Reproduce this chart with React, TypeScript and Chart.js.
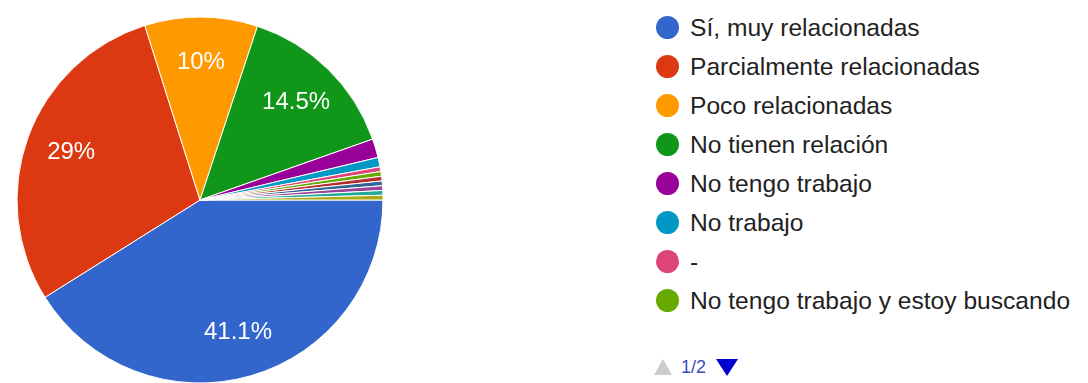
import React, { useEffect, useRef } from "react";
import { Chart, registerables } from "chart.js";

Chart.register(...registerables);

const categories = [
  "Sí, muy relacionadas",
  "Parcialmente relacionadas",
  "Poco relacionadas",
  "No tienen relación",
  "No tengo trabajo",
  "No trabajo",
  "-",
  "No tengo trabajo y estoy buscando",
  "Otra respuesta 1",
  "Otra respuesta 2",
  "Otra respuesta 3",
  "Otra respuesta 4",
  "Otra respuesta 5",
];

const responses = [99, 70, 24, 35, 4, 2, 1, 1, 1, 1, 1, 1, 1];

const sliceColors = [
  "#3366cc",
  "#dc3912",
  "#ff9900",
  "#109618",
  "#990099",
  "#0099c6",
  "#dd4477",
  "#66aa00",
  "#b82e2e",
  "#316395",
  "#994499",
  "#22aa99",
  "#aaaa11",
];

const legendPageSize = 8;
const pageLabel = "1/2";

const FONT = "Arial, 'Liberation Sans', sans-serif";

function formatPct(v: number, total: number) {
  const p = Math.round((v / total) * 1000) / 10;
  return (Number.isInteger(p) ? p.toFixed(0) : p.toFixed(1)) + "%";
}

const sliceLabels = {
  id: "sliceLabels",
  afterDatasetsDraw(chart: any) {
    const ctx = chart.ctx;
    const meta = chart.getDatasetMeta(0);
    const data = chart.data.datasets[0].data as number[];
    const total = data.reduce((a, b) => a + b, 0);
    ctx.save();
    ctx.font = `24px ${FONT}`;
    ctx.fillStyle = "#ffffff";
    ctx.textAlign = "center";
    ctx.textBaseline = "middle";
    meta.data.forEach((arc: any, i: number) => {
      if (data[i] / total < 0.05) return;
      const { startAngle, endAngle, outerRadius, x, y } = arc.getProps(
        ["startAngle", "endAngle", "outerRadius", "x", "y"],
        true
      );
      const mid = (startAngle + endAngle) / 2;
      const r = outerRadius * 0.75;
      ctx.fillText(formatPct(data[i], total), x + Math.cos(mid) * r, y + Math.sin(mid) * r);
    });
    ctx.restore();
  },
};

function PieChart() {
  const ref = useRef<HTMLCanvasElement | null>(null);
  useEffect(() => {
    if (!ref.current) return;
    const chart = new Chart(ref.current, {
      type: "pie",
      data: {
        labels: categories,
        datasets: [
          {
            data: responses,
            backgroundColor: sliceColors,
            borderColor: "#ffffff",
            borderWidth: 1,
          },
        ],
      },
      options: {
        responsive: false,
        animation: false,
        rotation: 90,
        radius: 183,
        layout: { padding: 0 },
        plugins: {
          legend: { display: false },
          tooltip: { enabled: false },
        },
      },
      plugins: [sliceLabels],
    });
    return () => chart.destroy();
  }, []);
  return <canvas ref={ref} width={400} height={400} style={{ display: "block" }} />;
}

export default function App() {
  return (
    <div
      style={{
        position: "fixed",
        left: 0,
        top: 0,
        width: 1088,
        height: 383,
        overflow: "hidden",
        background: "#ffffff",
        fontFamily: FONT,
      }}
    >
      <div style={{ position: "absolute", left: 0, top: 0, width: 400, height: 383, overflow: "hidden" }}>
        <PieChart />
      </div>
      <div style={{ position: "absolute", left: 656, top: 8 }}>
        {categories.slice(0, legendPageSize).map((c, i) => (
          <div
            key={c}
            style={{ display: "flex", alignItems: "center", height: 39, whiteSpace: "nowrap" }}
          >
            <span
              style={{
                width: 23,
                height: 23,
                borderRadius: "50%",
                background: sliceColors[i],
                display: "inline-block",
                flex: "none",
              }}
            />
            <span style={{ marginLeft: 11, fontSize: 24.6, color: "#222222" }}>{c}</span>
          </div>
        ))}
      </div>
      <div
        style={{
          position: "absolute",
          left: 654,
          top: 356,
          height: 22,
          display: "flex",
          alignItems: "center",
        }}
      >
        <span
          style={{
            width: 0,
            height: 0,
            borderLeft: "9px solid transparent",
            borderRight: "9px solid transparent",
            borderBottom: "16px solid #cccccc",
          }}
        />
        <span style={{ marginLeft: 9, fontSize: 18, color: "#3b4cc0" }}>{pageLabel}</span>
        <span
          style={{
            marginLeft: 10,
            width: 0,
            height: 0,
            borderLeft: "11px solid transparent",
            borderRight: "11px solid transparent",
            borderTop: "17px solid #0000cc",
          }}
        />
      </div>
    </div>
  );
}
